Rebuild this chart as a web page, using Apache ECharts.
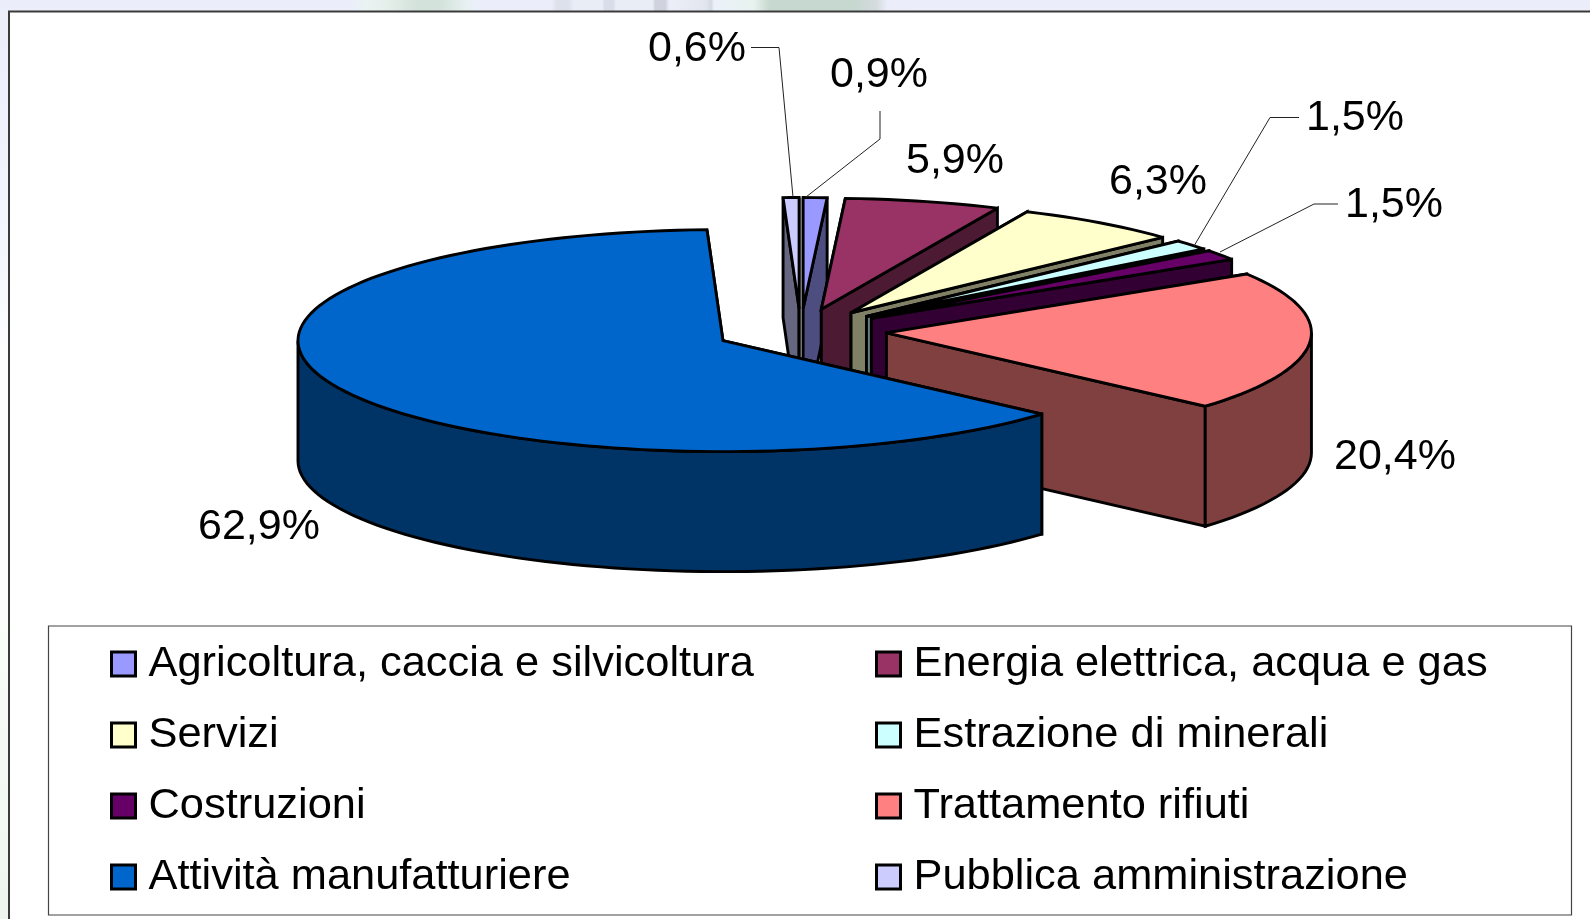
<!DOCTYPE html>
<html>
<head>
<meta charset="utf-8">
<style>html,body{margin:0;padding:0;background:#fff}#c{width:1590px;height:919px}</style>
<script src="https://cdn.jsdelivr.net/npm/echarts@6/dist/echarts.min.js"></script>
</head>
<body>
<div id="c"></div>
<script>
// ---- data, in pie order (clockwise from 12 o'clock) ----
const categories = ['Agricoltura, caccia e silvicoltura','Energia elettrica, acqua e gas','Servizi','Estrazione di minerali','Costruzioni','Trattamento rifiuti','Attività manufatturiere','Pubblica amministrazione'];
const shares = [0.9, 5.9, 6.3, 1.5, 1.5, 20.4, 62.9, 0.6];
const shareLabels = ['0,9%','5,9%','6,3%','1,5%','1,5%','20,4%','62,9%','0,6%'];
const topColors = ['#9999FF','#993366','#FFFFCC','#CCFFFF','#660066','#FF8080','#0066CC','#CCCCFF'];
const wallColors = ['#4D4D80','#4D1A33','#808066','#668080','#330033','#804040','#003366','#666680'];

// ---- layout ----
const RX = 425, RY = 111, CX = 800.7, CY = 331, EXPLODE = 0.2024, DEPTH = 120 / RY;
const xMin = -1.4, xMax = 1.4, yMin = -3, yMax = 2;
const paintOrder = [7, 0, 1, 2, 3, 4, 5, 6];
const labelAt = [[879,75],[955,161],[1158,182],[1355,118],[1394,205],[1395,457],[259,527],[697,49]];
const leaders = {
  0: [[880,111],[880,139],[806,197]],
  3: [[1299,117.5],[1270,117.5],[1194,246]],
  4: [[1338,204],[1314,204],[1220,252]],
  7: [[751,47.5],[779,47.5],[793,197]]
};
const legendLeft = [0, 2, 4, 6].map(i => categories[i]);
const legendRight = [1, 3, 5, 7].map(i => categories[i]);

const total = shares.reduce((a, b) => a + b, 0);
const spans = [];
shares.reduce((acc, v) => { spans.push([acc, acc + v / total * 360]); return acc + v / total * 360; }, 0);

function rad(d) { return d * Math.PI / 180; }
function sliceGeometry(i, api) {
  const [a, b] = spans[i];
  const mid = rad((a + b) / 2);
  const ox = EXPLODE * Math.sin(mid), oy = EXPLODE * Math.cos(mid);
  const P = (x, y) => api.coord([x, y]);
  const rim = (d, drop) => P(ox + Math.sin(rad(d)), oy + Math.cos(rad(d)) - (drop || 0));
  const arc = (from, to, drop) => {
    const n = Math.max(2, Math.ceil((to - from) / 2));
    const out = [];
    for (let k = 0; k <= n; k++) out.push(rim(from + (to - from) * k / n, drop));
    return out;
  };
  const apex = P(ox, oy), apexLow = P(ox, oy - DEPTH);
  return { a, b, rim, arc, apex, apexLow };
}
function poly(points, fill) {
  return { type: 'polygon', shape: { points },
    style: { fill, stroke: '#000', lineWidth: 2.9, lineJoin: 'miter', miterLimit: 3 } };
}
function renderSlice(i) {
  return function (params, api) {
    const g = sliceGeometry(i, api);
    const children = [];
    children.push(poly([g.apex, g.rim(g.a), g.rim(g.a, DEPTH), g.apexLow], wallColors[i]));
    children.push(poly([g.apex, g.rim(g.b), g.rim(g.b, DEPTH), g.apexLow], wallColors[i]));
    const f = Math.max(g.a, 90), t = Math.min(g.b, 270);
    if (t > f) children.push(poly(g.arc(f, t, 0).concat(g.arc(f, t, DEPTH).reverse()), wallColors[i]));
    children.push(poly([g.apex].concat(g.arc(g.a, g.b, 0)), topColors[i]));
    return { type: 'group', children };
  };
}
function renderLabels() {
  const children = [];
  Object.keys(leaders).forEach(k => children.push({ type: 'polyline', shape: { points: leaders[k] },
    style: { fill: 'none', stroke: '#222', lineWidth: 1 } }));
  shareLabels.forEach((t, i) => children.push({ type: 'text', x: labelAt[i][0], y: labelAt[i][1],
    style: { text: t, fill: '#000', font: '43px "Liberation Sans"', align: 'center', verticalAlign: 'middle' } }));
  return { type: 'group', children };
}

const series = paintOrder.map(i => ({
  type: 'custom', name: categories[i], coordinateSystem: 'cartesian2d', clip: false, silent: true,
  itemStyle: { color: topColors[i] }, data: [[0, 0, shares[i]]], renderItem: renderSlice(i), animation: false
}));
series.push({ type: 'custom', name: 'etichette', coordinateSystem: 'cartesian2d', clip: false, silent: true,
  data: [[0, 0]], renderItem: renderLabels, animation: false, z: 5 });

function legendAt(left, names) {
  return { left, top: 637, orient: 'vertical', selectedMode: false, data: names, icon: 'rect',
    itemWidth: 24, itemHeight: 24, itemGap: 27,
    itemStyle: { borderColor: '#000', borderWidth: 3 },
    textStyle: { fontFamily: 'Liberation Sans', fontSize: 43.4, color: '#000', lineHeight: 44, padding: [0, 0, 0, 8] } };
}

const bg = '#EBEEFA';
const chart = echarts.init(document.getElementById('c'), null, { renderer: 'canvas' });
chart.setOption({
  animation: false,
  backgroundColor: '#fff',
  grid: { left: CX + xMin * RX, width: (xMax - xMin) * RX, top: CY - yMax * RY, height: (yMax - yMin) * RY },
  xAxis: { type: 'value', min: xMin, max: xMax, show: false },
  yAxis: { type: 'value', min: yMin, max: yMax, show: false },
  legend: [legendAt(105, legendLeft), legendAt(870, legendRight)],
  graphic: [
    { type: 'rect', z: -10, shape: { x: 0, y: 0, width: 1590, height: 919 },
      style: { fill: new echarts.graphic.LinearGradient(0, 0, 0, 1, [
        { offset: 0, color: bg }, { offset: 0.27, color: '#F3F6FD' }, { offset: 0.38, color: '#FDFDFE' },
        { offset: 0.65, color: '#FCFDFC' }, { offset: 1, color: '#EDF5ED' }]) } },
    { type: 'rect', z: -9, shape: { x: 350, y: 0, width: 560, height: 11 },
      style: { fill: new echarts.graphic.LinearGradient(0, 0, 1, 0, [
        { offset: 0, color: bg }, { offset: 0.03, color: '#EAF3F2' }, { offset: 0.07, color: '#E4EEEA' },
        { offset: 0.12, color: '#D3E2DA' }, { offset: 0.16, color: '#D3E2DA' }, { offset: 0.21, color: '#E9F1F3' },
        { offset: 0.23, color: bg }, { offset: 0.36, color: bg }, { offset: 0.37, color: '#DDE1EB' },
        { offset: 0.39, color: '#DDE1EB' }, { offset: 0.40, color: '#E8EDF6' }, { offset: 0.45, color: '#E8EDF6' },
        { offset: 0.455, color: '#D9DDE8' }, { offset: 0.47, color: '#D9DDE8' }, { offset: 0.475, color: '#E8EDF6' },
        { offset: 0.54, color: '#E8EDF6' }, { offset: 0.545, color: '#CFD3DE' }, { offset: 0.563, color: '#CFD3DE' },
        { offset: 0.57, color: '#ECEFF8' }, { offset: 0.635, color: '#E2E6EF' }, { offset: 0.645, color: '#D5D9E3' },
        { offset: 0.65, color: '#ECF1F9' }, { offset: 0.72, color: '#E8F3F0' }, { offset: 0.75, color: '#C6D8CF' },
        { offset: 0.90, color: '#C6D8CF' }, { offset: 0.94, color: '#D5DCDE' }, { offset: 0.96, color: bg }, { offset: 1, color: bg }]) } },
    { type: 'rect', z: -8, shape: { x: 9, y: 11.5, width: 1590, height: 919 },
      style: { fill: '#fff', stroke: '#3a3a3a', lineWidth: 2 } },
    { type: 'rect', z: -7, shape: { x: 48.5, y: 626, width: 1523, height: 289 },
      style: { fill: '#fff', stroke: '#444', lineWidth: 1.2 } }
  ],
  series
});
</script>
</body>
</html>
